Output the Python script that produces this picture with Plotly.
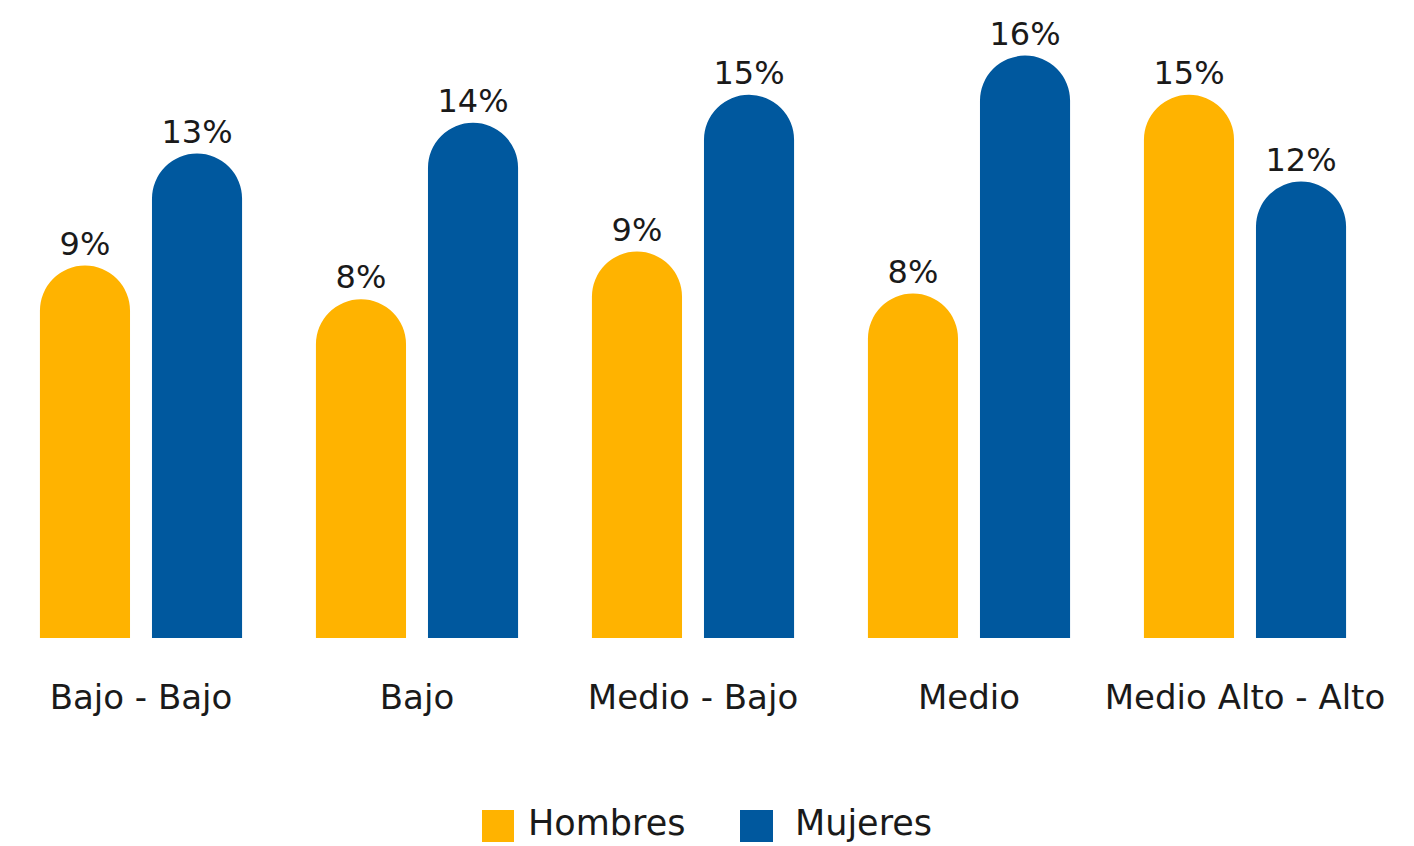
import plotly.graph_objects as go

categorias = ["Bajo - Bajo", "Bajo", "Medio - Bajo", "Medio", "Medio Alto - Alto"]
hombres = [8.9, 7.7, 9.4, 7.9, 15.0]
mujeres = [12.9, 14.0, 15.0, 16.4, 11.9]
series_names = ["Hombres", "Mujeres"]
colors = ["#FFB300", "#00589E"]

AXIS_MIN = -4.4          # visual baseline of the original chart
BAR_BASE = AXIS_MIN - 6  # bars start below the visible area (flat bottoms)
FONT = "DejaVu Sans"
TXT = "#1a1a1a"

W, H = 1414, 846
ML, MR, MT, MB = 3, 31, 0, 208
plot_w = W - ML - MR
plot_h = H - MT - MB

fig = go.Figure()
for name, vals, col in zip(series_names, [hombres, mujeres], colors):
    fig.add_trace(go.Bar(
        x=categorias,
        y=[v - BAR_BASE for v in vals],
        base=BAR_BASE,
        name=name,
        marker=dict(color=col, line=dict(width=0), cornerradius="50%"),
        text=[f"{round(v)}%" for v in vals],
        textposition="outside",
        texttemplate="%{text}",
        textfont=dict(family=FONT, size=32, color=TXT),
        cliponaxis=True,
        hoverinfo="skip",
        showlegend=False,
    ))

# manual legend with large square swatches
def px2x(px):
    return (px - ML) / plot_w

def py2y(py):
    return (H - MB - py) / plot_h

shapes = []
annotations = []
legend_items = [(482, 514, 526), (740, 773, 793)]
for (x0, x1, tx), name, col in zip(legend_items, series_names, colors):
    shapes.append(dict(type="rect", xref="paper", yref="paper",
                       x0=px2x(x0), x1=px2x(x1), y0=py2y(842), y1=py2y(810),
                       fillcolor=col, line=dict(width=0)))
    annotations.append(dict(xref="paper", yref="paper", x=px2x(tx), y=py2y(823),
                            xanchor="left", yanchor="middle", showarrow=False,
                            text=name, font=dict(family=FONT, size=35, color=TXT)))

fig.update_layout(
    width=W, height=H,
    margin=dict(l=ML, r=MR, t=MT, b=MB),
    paper_bgcolor="white", plot_bgcolor="white",
    barmode="group", bargap=0.188, bargroupgap=0.196,
    font=dict(family=FONT, color=TXT),
    shapes=shapes, annotations=annotations,
    showlegend=False,
)
fig.update_xaxes(showgrid=False, zeroline=False, showline=False,
                 ticks="", ticklabelstandoff=36,
                 tickfont=dict(family=FONT, size=34, color=TXT))
fig.update_yaxes(visible=False, range=[AXIS_MIN, AXIS_MIN + plot_h / 28.0], fixedrange=True)

fig.write_html("out.html",
               config={"displayModeBar": False},
               post_script="document.body.style.margin='0';document.body.style.overflow='hidden';")
